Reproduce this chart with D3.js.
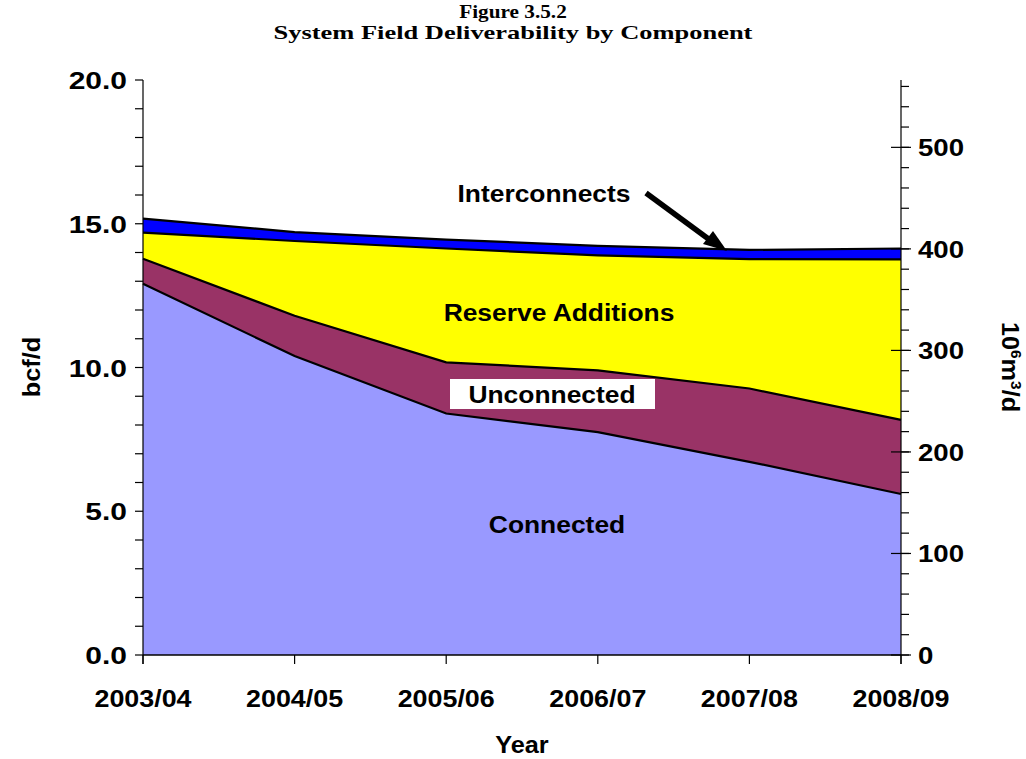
<!DOCTYPE html>
<html><head><meta charset="utf-8">
<script src="https://cdn.jsdelivr.net/npm/d3@7/dist/d3.min.js"></script>
<style>body{margin:0;background:#fff}svg{display:block}</style>
</head><body>
<svg id="c" width="1026" height="759"></svg>
<script>
const years = ["2003/04","2004/05","2005/06","2006/07","2007/08","2008/09"];
const connected     = [12.91, 10.40, 8.40, 7.75, 6.72, 5.60];
const unconnected   = [0.87, 1.40, 1.78, 2.15, 2.55, 2.58];
const reserveAdd    = [0.91, 2.60, 3.96, 4.00, 4.50, 5.58];
const interconnects = [0.49, 0.31, 0.31, 0.33, 0.32, 0.38];
const seriesNames = ["Connected","Unconnected","Reserve Additions","Interconnects"];
const seriesColors = ["#9999FF","#993366","#FFFF00","#0000FF"];
const leftTicks = [0,5,10,15,20];
const rightTicks = [0,100,200,300,400,500];
const M3_PER_BCF = 28.3168;

const svg = d3.select("#c");
const L = 143, R = 901, T = 80, B = 655;
const x = d3.scalePoint().domain(years).range([L, R]);
const y = d3.scaleLinear().domain([0, 20]).range([B, T]);
const y2 = d3.scaleLinear().domain([0, 20 * M3_PER_BCF]).range([B, T]);

function label(txt, px, py, opts = {}) {
  return svg.append("text")
    .attr("transform", `translate(${px},${py}) rotate(${opts.rot || 0}) scale(${opts.sx || 1.1},1)`)
    .attr("text-anchor", opts.anchor || "middle")
    .attr("font-family", opts.family || "'Liberation Sans', Arial, sans-serif")
    .attr("font-weight", "bold")
    .attr("font-size", opts.size || 24)
    .attr("fill", "#000")
    .text(txt);
}

// stacked data
const table = years.map((yr, i) => ({
  year: yr,
  "Connected": connected[i],
  "Unconnected": unconnected[i],
  "Reserve Additions": reserveAdd[i],
  "Interconnects": interconnects[i]
}));
const stacked = d3.stack().keys(seriesNames)(table);

const area = d3.area().x(d => x(d.data.year)).y0(d => y(d[0])).y1(d => y(d[1]));
const topLine = d3.line().x(d => x(d.data.year)).y(d => y(d[1]));

svg.append("g").selectAll("path").data(stacked).join("path")
  .attr("d", area).attr("fill", (d, i) => seriesColors[i]).attr("stroke", "none");
svg.append("g").selectAll("path").data(stacked).join("path")
  .attr("d", topLine).attr("fill", "none").attr("stroke", "#000").attr("stroke-width", 2.2);

// left axis
const yMinor = d3.range(0, 21, 1);
const gl = svg.append("g").attr("transform", `translate(${L},0)`);
gl.append("line").attr("x1", 0).attr("x2", 0).attr("y1", T).attr("y2", B + 9).attr("stroke", "#000").attr("stroke-width", 1.2);
gl.selectAll("line.mn").data(yMinor).join("line").attr("class", "mn")
  .attr("x1", -8).attr("x2", 0).attr("y1", d => y(d)).attr("y2", d => y(d)).attr("stroke", "#000").attr("stroke-width", 1.2);
leftTicks.forEach(v => label(d3.format(".1f")(v), L - 16, y(v) + 9, {anchor: "end", size: 24, sx: 1.25}));

// right axis
const y2Minor = d3.range(0, 570, 20);
const gr = svg.append("g").attr("transform", `translate(${R},0)`);
gr.append("line").attr("x1", 0).attr("x2", 0).attr("y1", T).attr("y2", B + 9).attr("stroke", "#000").attr("stroke-width", 1.2);
gr.selectAll("line.mn").data(y2Minor).join("line").attr("class", "mn")
  .attr("x1", 0).attr("x2", 8).attr("y1", d => y2(d)).attr("y2", d => y2(d)).attr("stroke", "#000").attr("stroke-width", 1.2);
gr.selectAll("line.mj").data(rightTicks).join("line").attr("class", "mj")
  .attr("x1", -10).attr("x2", 10).attr("y1", d => y2(d)).attr("y2", d => y2(d)).attr("stroke", "#000").attr("stroke-width", 1.2);
rightTicks.forEach(v => label(String(v), R + 17, y2(v) + 9, {anchor: "start", size: 24, sx: 1.15}));

// bottom axis
const gb = svg.append("g");
gb.append("line").attr("x1", L).attr("x2", R).attr("y1", B).attr("y2", B).attr("stroke", "#000").attr("stroke-width", 1.5);
gb.selectAll("line.t").data(years).join("line").attr("class", "t")
  .attr("x1", d => x(d)).attr("x2", d => x(d)).attr("y1", B).attr("y2", B + 9).attr("stroke", "#000").attr("stroke-width", 1.2);
years.forEach(yr => label(yr, x(yr), 707, {size: 24, sx: 1.12}));

// axis titles
label("Year", (L + R) / 2, 753, {size: 23, sx: 1.1});
label("bcf/d", 40, 367, {rot: -90, size: 23, sx: 1.1});
const rt = svg.append("text")
  .attr("transform", `translate(1002,367) rotate(90) scale(1.1,1)`)
  .attr("text-anchor", "middle")
  .attr("font-family", "'Liberation Sans', Arial, sans-serif")
  .attr("font-weight", "bold").attr("font-size", 23);
rt.append("tspan").text("10");
rt.append("tspan").attr("dy", -9).attr("font-size", 14).text("6");
rt.append("tspan").attr("dy", 9).text("m");
rt.append("tspan").attr("dy", -9).attr("font-size", 14).text("3");
rt.append("tspan").attr("dy", 9).text("/d");

// titles
const serif = "'Liberation Serif', 'Times New Roman', serif";
label("Figure 3.5.2", 513, 18, {size: 18, family: serif, sx: 1.18});
label("System Field Deliverability by Component", 513, 39, {size: 18.5, family: serif, sx: 1.43});

// in-chart labels
label("Reserve Additions", 559, 321);
svg.append("rect").attr("x", 450).attr("y", 379).attr("width", 205).attr("height", 30).attr("fill", "#fff");
label("Unconnected", 552, 403);
label("Connected", 557, 533);
label("Interconnects", 544, 202);

// arrow
svg.append("line").attr("x1", 646).attr("y1", 193).attr("x2", 714).attr("y2", 243)
  .attr("stroke", "#000").attr("stroke-width", 5.5);
svg.append("path").attr("d", "M727,251 L703,244 L713,231 Z").attr("fill", "#000");
</script>
</body></html>
